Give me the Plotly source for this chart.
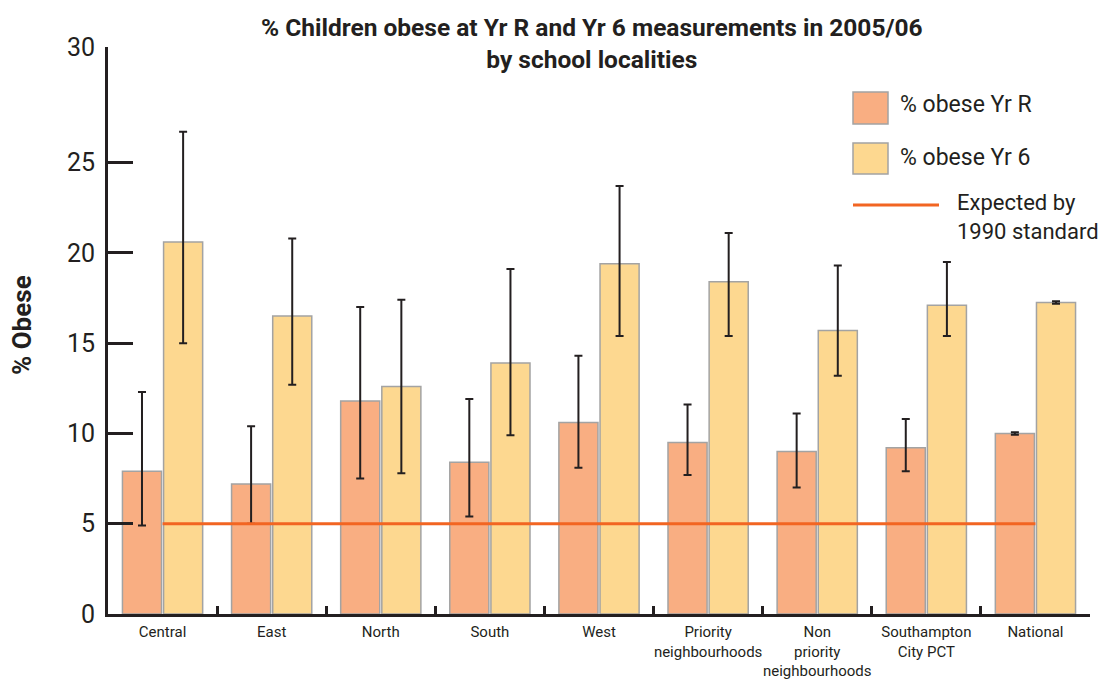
import plotly.graph_objects as go

categories = ["Central", "East", "North", "South", "West",
              "Priority<br>neighbourhoods", "Non<br>priority<br>neighbourhoods",
              "Southampton<br>City PCT", "National"]

yr_r = [7.9, 7.2, 11.8, 8.4, 10.6, 9.5, 9.0, 9.2, 10.0]
yr_r_upper = [12.3, 10.4, 17.0, 11.9, 14.3, 11.6, 11.1, 10.8, 10.07]
yr_r_lower = [4.9, 5.0, 7.5, 5.4, 8.1, 7.7, 7.0, 7.9, 9.92]

yr_6 = [20.6, 16.5, 12.6, 13.9, 19.4, 18.4, 15.7, 17.1, 17.25]
yr_6_upper = [26.7, 20.8, 17.4, 19.1, 23.7, 21.1, 19.3, 19.5, 17.32]
yr_6_lower = [15.0, 12.7, 7.8, 9.9, 15.4, 15.4, 13.2, 15.4, 17.18]

expected_1990 = 5

y_tick_vals = [0, 5, 10, 15, 20, 25, 31.4]
y_tick_text = ["0", "5", "10", "15", "20", "25", "30"]

DARK = "#231f20"
C_R = "#f9ae82"
C_6 = "#fdd890"
C_LINE = "#f26522"
FONT = "Roboto"

fig = go.Figure()
fig.add_trace(go.Bar(
    name="% obese Yr R", x=categories, y=yr_r,
    marker=dict(color=C_R, line=dict(color="#a3a3a3", width=1.5)),
    error_y=dict(type="data", symmetric=False,
                 array=[u - v for u, v in zip(yr_r_upper, yr_r)],
                 arrayminus=[v - l for v, l in zip(yr_r, yr_r_lower)],
                 color=DARK, thickness=2, width=4),
))
fig.add_trace(go.Bar(
    name="% obese Yr 6", x=categories, y=yr_6,
    marker=dict(color=C_6, line=dict(color="#a3a3a3", width=1.5)),
    error_y=dict(type="data", symmetric=False,
                 array=[u - v for u, v in zip(yr_6_upper, yr_6)],
                 arrayminus=[v - l for v, l in zip(yr_6, yr_6_lower)],
                 color=DARK, thickness=2, width=4),
))
fig.add_trace(go.Scatter(
    name="Expected by 1990 standard",
    x=[categories[0], categories[-1]], y=[expected_1990] * 2,
    mode="lines", line=dict(color=C_LINE, width=3),
))

# plot-area pixel geometry (for manual legend / labels)
L, R, T, B = 108, 1090, 47, 614
def px(x):
    return (x - L) / (R - L)
def py(y):
    return (B - y) / (B - T)

shapes = [
    dict(type="rect", xref="paper", yref="paper", x0=px(853), x1=px(888), y0=py(124), y1=py(92),
         fillcolor=C_R, line=dict(color="#a3a3a3", width=1.5)),
    dict(type="rect", xref="paper", yref="paper", x0=px(853), x1=px(888), y0=py(174), y1=py(143),
         fillcolor=C_6, line=dict(color="#a3a3a3", width=1.5)),
    dict(type="line", xref="paper", yref="paper", x0=px(853), x1=px(939), y0=py(205), y1=py(205),
         line=dict(color=C_LINE, width=3)),
]
annotations = [
    dict(xref="paper", yref="paper", x=px(592), y=py(44),
         text="<b>% Children obese at Yr R and Yr 6 measurements in 2005/06<br>by school localities</b>",
         showarrow=False, xanchor="center", yanchor="middle", align="center",
         font=dict(family=FONT, size=24.5, color=DARK)),
    dict(xref="paper", yref="paper", x=px(898), y=py(104), text="% obese Yr R", showarrow=False,
         xanchor="left", yanchor="middle", font=dict(family=FONT, size=23, color=DARK)),
    dict(xref="paper", yref="paper", x=px(898), y=py(157), text="% obese Yr 6", showarrow=False,
         xanchor="left", yanchor="middle", font=dict(family=FONT, size=23, color=DARK)),
    dict(xref="paper", yref="paper", x=px(955), y=py(217), text="Expected by<br>1990 standard",
         showarrow=False, xanchor="left", yanchor="middle", align="left",
         font=dict(family=FONT, size=22, color=DARK)),
    dict(xref="paper", yref="paper", x=px(22), y=py(325), text="<b>% Obese</b>", textangle=-90,
         showarrow=False, xanchor="center", yanchor="middle",
         font=dict(family=FONT, size=26, color=DARK)),
]

fig.update_layout(
    width=1116, height=680,
    margin=dict(l=L, r=1116 - R, t=T, b=680 - B, autoexpand=False),
    paper_bgcolor="white", plot_bgcolor="white",
    showlegend=False,
    barmode="group", bargap=0.246, bargroupgap=0.05,
    shapes=shapes, annotations=annotations,
    font=dict(family=FONT, color=DARK),
)
fig.update_xaxes(
    type="category", tickson="boundaries", ticks="inside", ticklen=8, tickwidth=3,
    tickcolor=DARK, showline=True, linewidth=3, linecolor=DARK, showgrid=False,
    tickfont=dict(family=FONT, size=15, color=DARK), range=[-0.5, 8.5],
    tickangle=0, automargin=False, ticklabelstandoff=2,
)
fig.update_yaxes(
    range=[0, 31.4], tickmode="array", tickvals=y_tick_vals, ticktext=y_tick_text,
    ticks="inside", ticklen=25, tickwidth=3, tickcolor=DARK,
    showline=True, linewidth=3, linecolor=DARK, showgrid=False, zeroline=False,
    tickfont=dict(family=FONT, size=25, color=DARK), ticklabelstandoff=5,
    automargin=False,
)

fig.write_html("out.html")
